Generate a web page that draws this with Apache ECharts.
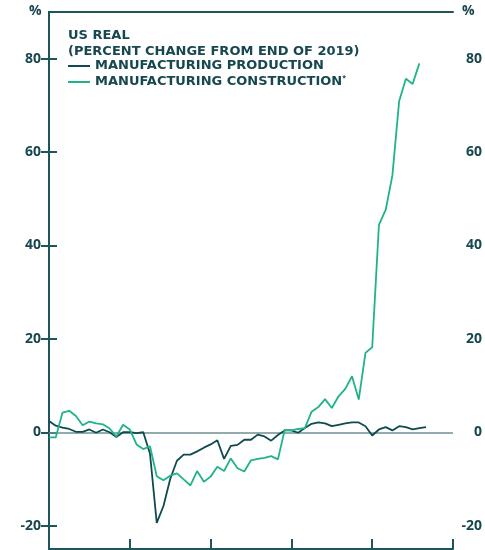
<!DOCTYPE html>
<html>
<head>
<meta charset="utf-8">
<script src="https://cdn.jsdelivr.net/npm/echarts@6/dist/echarts.min.js"></script>
<style>
  html, body { margin: 0; padding: 0; background: #ffffff; }
  #chart { width: 485px; height: 550px; }
</style>
</head>
<body>
<div id="chart"></div>
<script>
// Monthly index: 0 = Jan 2019, 12 = Jan 2020, ... 60 = Jan 2024
const yearTicks = [0, 12, 24, 36, 48, 60];
const yTickValues = [-20, 0, 20, 40, 60, 80];

const productionName = 'MANUFACTURING PRODUCTION';
const constructionName = 'MANUFACTURING CONSTRUCTION';

// Real manufacturing production, % change from end of 2019 (Jan 2019 - Sep 2023)
const production = [
  2.4, 1.4, 1.0, 0.7, 0.1, 0.1, 0.6, -0.1, 0.6, 0.0, -1.0, 0.0,
  0.0, -0.2, 0.0, -4.6, -19.4, -15.8, -10.0, -6.1, -4.8, -4.8, -4.1, -3.3,
  -2.6, -1.7, -5.7, -2.9, -2.7, -1.6, -1.6, -0.5, -0.9, -1.8, -0.6, 0.4,
  0.4, -0.1, 0.9, 1.8, 2.1, 1.9, 1.3, 1.6, 1.9, 2.1, 2.1, 1.3,
  -0.7, 0.6, 1.1, 0.4, 1.3, 1.1, 0.6, 0.9, 1.1
];

// Real manufacturing construction spending, % change from end of 2019 (Jan 2019 - Aug 2023)
const construction = [
  -1.1, -1.1, 4.2, 4.6, 3.5, 1.5, 2.3, 1.9, 1.7, 0.8, -0.9, 1.6,
  0.6, -2.6, -3.6, -3.0, -9.4, -10.3, -9.3, -8.8, -10.1, -11.4, -8.3, -10.6,
  -9.5, -7.4, -8.3, -5.6, -7.7, -8.4, -6.0, -5.7, -5.5, -5.1, -5.8, 0.5,
  0.4, 0.7, 0.9, 4.4, 5.4, 7.1, 5.2, 7.7, 9.3, 12.0, 7.0, 17.0,
  18.2, 44.4, 47.6, 55.0, 70.9, 75.7, 74.6, 79.0
];

const toPairs = arr => arr.map((v, i) => [i, v]);

const axisColor = '#1c555b';
const labelColor = '#17474f';
const font = 'Open Sans';
const headFont = 'DejaVu Sans';

const chart = echarts.init(document.getElementById('chart'), null, { renderer: 'canvas' });

const yAxisBase = (pos) => ({
  type: 'value',
  position: pos,
  min: -25,
  max: 90,
  axisLine: { show: true, lineStyle: { color: axisColor, width: 2 } },
  axisTick: {
    show: true, inside: true, length: 8,
    customValues: yTickValues,
    lineStyle: { color: axisColor, width: 2 }
  },
  axisLabel: {
    show: true,
    customValues: yTickValues,
    color: labelColor,
    fontFamily: font,
    fontWeight: 'bold',
    fontSize: 14,
    align: 'right',
    margin: pos === 'left' ? 8 : 29
  },
  splitLine: { show: false }
});

chart.setOption({
  animation: false,
  backgroundColor: '#ffffff',
  grid: { left: 49, right: 31, top: 12, bottom: 1, containLabel: false },
  title: {
    text: 'US REAL\n(PERCENT CHANGE FROM END OF 2019)',
    left: 68,
    top: 28,
    padding: 0,
    textStyle: {
      color: labelColor, fontFamily: headFont, fontWeight: 'bold',
      fontSize: 13, lineHeight: 16
    }
  },
  legend: {
    orient: 'vertical',
    left: 68,
    top: 58,
    padding: 0,
    itemWidth: 22,
    itemHeight: 2,
    itemGap: 0,
    icon: 'rect',
    data: [productionName, constructionName],
    formatter: name => name === constructionName ? name + '{sup|*}' : name,
    textStyle: {
      color: labelColor, fontFamily: headFont, fontWeight: 'bold',
      fontSize: 13, lineHeight: 16,
      rich: {
        sup: { fontSize: 7, verticalAlign: 'top', color: labelColor, fontFamily: font, padding: [0, 0, 6, 0] }
      }
    }
  },
  graphic: [
    { type: 'text', left: 29, top: 4, style: { text: '%', fill: labelColor, font: 'bold 14px "Open Sans"' } },
    { type: 'text', left: 462, top: 4, style: { text: '%', fill: labelColor, font: 'bold 14px "Open Sans"' } }
  ],
  xAxis: [
    {
      type: 'value',
      position: 'bottom',
      min: 0,
      max: 60,
      interval: 12,
      axisLine: { show: true, onZero: false, lineStyle: { color: axisColor, width: 2 } },
      axisTick: { show: true, inside: true, length: 10, lineStyle: { color: axisColor, width: 2 } },
      axisLabel: { show: false },
      splitLine: { show: false }
    },
    {
      type: 'value',
      position: 'top',
      min: 0,
      max: 60,
      axisLine: { show: true, onZero: false, lineStyle: { color: axisColor, width: 2 } },
      axisTick: { show: false },
      axisLabel: { show: false },
      splitLine: { show: false }
    }
  ],
  yAxis: [yAxisBase('left'), yAxisBase('right')],
  series: [
    {
      name: productionName,
      type: 'line',
      data: toPairs(production),
      showSymbol: false,
      symbol: 'none',
      color: '#0f4a50',
      lineStyle: { color: '#0f4a50', width: 1.8 },
      z: 3,
      markLine: {
        silent: true,
        symbol: 'none',
        label: { show: false },
        lineStyle: { color: '#6e9093', width: 1.5, type: 'solid' },
        data: [{ yAxis: 0 }],
        z: 1
      }
    },
    {
      name: constructionName,
      type: 'line',
      data: toPairs(construction),
      showSymbol: false,
      symbol: 'none',
      color: '#1fb38b',
      lineStyle: { color: '#1fb38b', width: 1.8 },
      z: 4
    }
  ]
});
</script>
</body>
</html>
